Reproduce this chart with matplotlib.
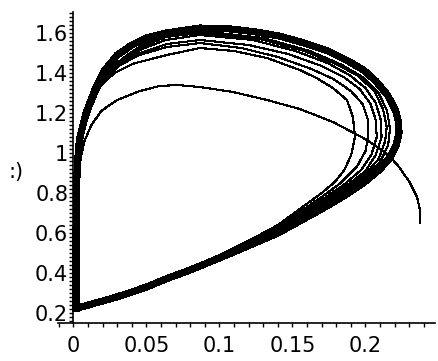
import matplotlib
matplotlib.use('Agg')
from matplotlib import pyplot as plt
from matplotlib.ticker import MultipleLocator

# first arc: from the start point up, over the top and down the y axis
start_x = [0.2373, 0.2373, 0.2353, 0.2305, 0.2236, 0.2188, 0.212, 0.201, 0.1894, 0.1777,
           0.155, 0.1325, 0.1092, 0.0866, 0.0709, 0.059, 0.0455, 0.0298, 0.019, 0.0123,
           0.0075, 0.005, 0.0035, 0.0022, 0.0017, 0.0017]
start_y = [0.65, 0.715, 0.78, 0.85, 0.925, 0.965, 1.01, 1.065, 1.11, 1.155,
           1.22, 1.265, 1.305, 1.33, 1.34, 1.335, 1.31, 1.265, 1.21, 1.14,
           1.06, 0.975, 0.9, 0.765, 0.465, 0.225]

# following loops, growing out to the cycle
loop1_x = [0.0017, 0.008, 0.015, 0.025, 0.036, 0.05, 0.065, 0.08, 0.1, 0.121, 0.14, 0.155,
           0.17, 0.179, 0.1855, 0.1902, 0.1928, 0.1914, 0.1873, 0.1777, 0.1664, 0.155, 0.1325,
           0.11, 0.0866, 0.064, 0.041, 0.028, 0.018, 0.0105, 0.005, 0.003, 0.0017, 0.0017]
loop1_y = [0.225, 0.237, 0.252, 0.273, 0.298, 0.335, 0.38, 0.425, 0.49, 0.565, 0.64, 0.72,
           0.80, 0.855, 0.915, 0.99, 1.08, 1.18, 1.265, 1.325, 1.375, 1.415, 1.475,
           1.51, 1.525, 1.49, 1.447, 1.40, 1.33, 1.2, 1.065, 0.93, 0.6, 0.225]

loop2_x = [0.0017, 0.008, 0.015, 0.025, 0.036, 0.05, 0.065, 0.08, 0.1, 0.121, 0.14, 0.155,
           0.17, 0.183, 0.194, 0.2, 0.202, 0.2015, 0.198, 0.19, 0.178, 0.163, 0.14,
           0.115, 0.0866, 0.064, 0.045, 0.032, 0.021, 0.013, 0.007, 0.0035, 0.002, 0.0017]
loop2_y = [0.225, 0.236, 0.251, 0.272, 0.297, 0.333, 0.378, 0.422, 0.486, 0.558, 0.63, 0.705,
           0.78, 0.85, 0.93, 1.01, 1.09, 1.17, 1.245, 1.31, 1.37, 1.42, 1.48,
           1.525, 1.55, 1.53, 1.49, 1.44, 1.37, 1.26, 1.13, 0.98, 0.8, 0.225]

loop3_x = [0.0017, 0.008, 0.015, 0.025, 0.036, 0.05, 0.065, 0.08, 0.1, 0.121, 0.14, 0.155,
           0.17, 0.185, 0.197, 0.204, 0.2077, 0.207, 0.2035, 0.196, 0.185, 0.17, 0.147,
           0.12, 0.0866, 0.064, 0.046, 0.033, 0.022, 0.014, 0.0075, 0.004, 0.0022, 0.0017]
loop3_y = [0.225, 0.236, 0.25, 0.271, 0.296, 0.332, 0.377, 0.42, 0.483, 0.553, 0.622, 0.692,
           0.765, 0.84, 0.915, 0.99, 1.08, 1.165, 1.245, 1.32, 1.38, 1.435, 1.495,
           1.54, 1.565, 1.545, 1.5, 1.45, 1.38, 1.27, 1.14, 0.99, 0.8, 0.225]

loop4_x = [0.0017, 0.008, 0.015, 0.025, 0.036, 0.05, 0.065, 0.08, 0.1, 0.121, 0.14, 0.155,
           0.17, 0.186, 0.2, 0.207, 0.211, 0.2105, 0.207, 0.2, 0.189, 0.174, 0.152,
           0.123, 0.0866, 0.063, 0.047, 0.034, 0.022, 0.0145, 0.008, 0.004, 0.0022, 0.0017]
loop4_y = [0.225, 0.235, 0.25, 0.27, 0.295, 0.331, 0.376, 0.418, 0.48, 0.549, 0.615, 0.682,
           0.752, 0.83, 0.91, 0.99, 1.08, 1.165, 1.25, 1.325, 1.39, 1.45, 1.51,
           1.565, 1.59, 1.565, 1.52, 1.46, 1.39, 1.28, 1.14, 0.99, 0.8, 0.225]

loop5_x = [0.0017, 0.008, 0.015, 0.025, 0.036, 0.05, 0.065, 0.08, 0.1, 0.121, 0.14, 0.155,
           0.17, 0.186, 0.2, 0.209, 0.2135, 0.2145, 0.212, 0.206, 0.195, 0.18, 0.158,
           0.128, 0.0866, 0.063, 0.048, 0.035, 0.022, 0.015, 0.0085, 0.004, 0.0022, 0.0017]
loop5_y = [0.225, 0.235, 0.25, 0.27, 0.295, 0.33, 0.375, 0.417, 0.478, 0.546, 0.61, 0.675,
           0.74, 0.815, 0.895, 0.97, 1.06, 1.13, 1.22, 1.31, 1.385, 1.445, 1.51,
           1.57, 1.60, 1.58, 1.535, 1.475, 1.4, 1.3, 1.16, 1.0, 0.8, 0.225]

loop6_x = [0.0017, 0.008, 0.015, 0.025, 0.036, 0.05, 0.065, 0.08, 0.1, 0.121, 0.14, 0.155,
           0.17, 0.186, 0.2, 0.21, 0.2155, 0.2168, 0.2148, 0.209, 0.199, 0.184, 0.162,
           0.13, 0.0866, 0.063, 0.049, 0.036, 0.022, 0.0152, 0.0088, 0.004, 0.0022, 0.0017]
loop6_y = [0.225, 0.235, 0.25, 0.27, 0.295, 0.33, 0.375, 0.416, 0.477, 0.543, 0.605, 0.668,
           0.732, 0.805, 0.88, 0.955, 1.04, 1.12, 1.21, 1.3, 1.375, 1.44, 1.51,
           1.575, 1.61, 1.59, 1.55, 1.485, 1.405, 1.31, 1.18, 1.03, 0.8, 0.225]

# the limit cycle the orbit settles onto
cycle_x = [0.0017, 0.008, 0.015, 0.025, 0.036, 0.05, 0.065, 0.08, 0.0866, 0.1, 0.121, 0.14,
           0.155, 0.17, 0.185, 0.1985, 0.21, 0.2165, 0.221, 0.223, 0.2225, 0.2205, 0.215,
           0.207, 0.1986, 0.188, 0.1743, 0.158, 0.1408, 0.125, 0.108, 0.0866, 0.0634, 0.05,
           0.04, 0.03, 0.021, 0.0154, 0.0086, 0.004, 0.0025, 0.0017, 0.0017]
cycle_y = [0.225, 0.235, 0.25, 0.27, 0.295, 0.33, 0.375, 0.415, 0.435, 0.475, 0.54, 0.60,
           0.66, 0.72, 0.785, 0.85, 0.92, 0.975, 1.04, 1.10, 1.16, 1.215, 1.29,
           1.36, 1.415, 1.46, 1.51, 1.55, 1.585, 1.605, 1.62, 1.625, 1.60, 1.575,
           1.54, 1.49, 1.41, 1.33, 1.2, 1.065, 0.93, 0.6, 0.225]

loops = [(loop1_x, loop1_y), (loop2_x, loop2_y), (loop3_x, loop3_y),
         (loop4_x, loop4_y), (loop5_x, loop5_y), (loop6_x, loop6_y)]

x_ticks = [0, 0.05, 0.1, 0.15, 0.2]
x_labels = ['0', '0.05', '0.1', '0.15', '0.2']
y_ticks = [0.2, 0.4, 0.6, 0.8, 1.0, 1.2, 1.4, 1.6]
y_labels = ['0.2', '0.4', '0.6', '0.8', '1', '1.2', '1.4', '1.6']

plt.rcParams['font.family'] = ['DejaVu Sans']

fig = plt.figure(figsize=(4.38, 3.61), dpi=100)
ax = fig.add_axes([58 / 438, 1 - 322.7 / 361, (435 - 58) / 438, (322.7 - 12) / 361])

ax.plot(cycle_x, cycle_y, color='black', lw=4.4, antialiased=False, solid_joinstyle='round')
for lx, ly in loops:
    ax.plot(lx, ly, color='black', lw=0.8, antialiased=False)
ax.plot(start_x, start_y, color='black', lw=0.8, antialiased=False)

ax.set_xlim(-0.0106, 0.2476)
ax.set_ylim(0.1515, 1.705)

ax.spines['left'].set_position(('data', 0))
ax.spines['top'].set_visible(False)
ax.spines['right'].set_visible(False)
ax.spines['left'].set_linewidth(1.2)
ax.spines['bottom'].set_linewidth(1.2)

ax.set_xticks(x_ticks)
ax.set_xticklabels(x_labels)
ax.set_yticks(y_ticks)
ax.set_yticklabels(y_labels)
ax.xaxis.set_minor_locator(MultipleLocator(0.01))
ax.yaxis.set_minor_locator(MultipleLocator(0.02))
ax.tick_params(axis='both', which='both', direction='out', length=2.6, width=1)
ax.tick_params(axis='x', which='major', pad=7, labelsize=15)
ax.tick_params(axis='y', which='major', pad=1.2, labelsize=15)

fig.text(16 / 438, 1 - 172 / 361, ':)', ha='center', va='center', fontsize=15)

plt.savefig('out.png', dpi=100)
